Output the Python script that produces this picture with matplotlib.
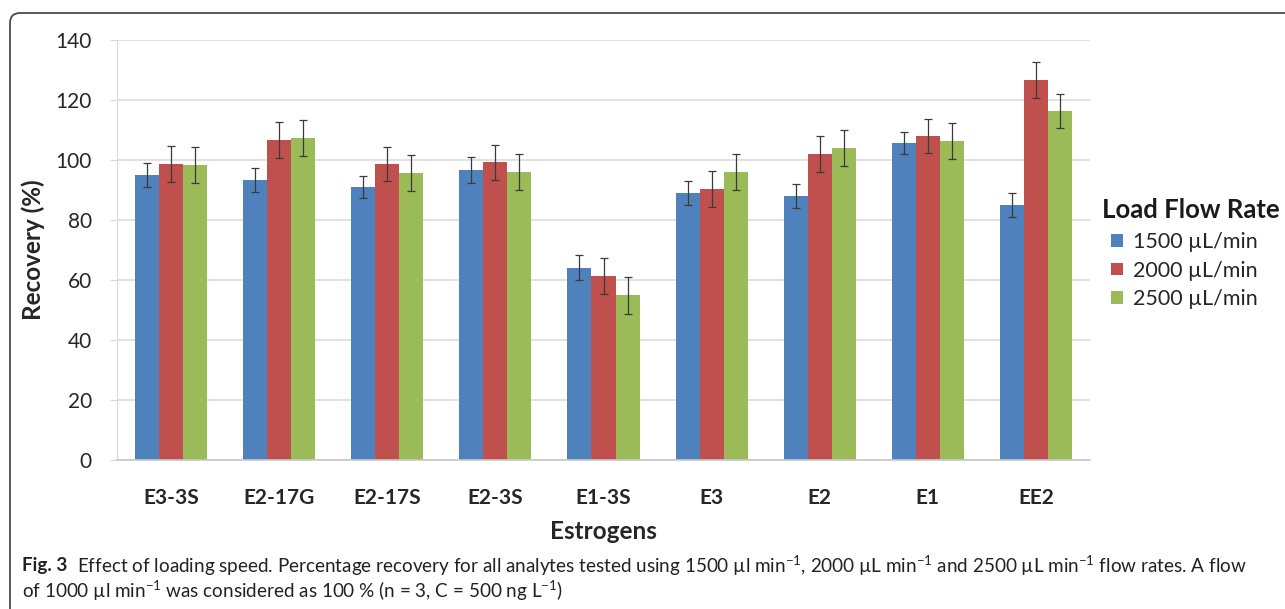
import numpy as np
import matplotlib
matplotlib.use("Agg")
import matplotlib.pyplot as plt
from matplotlib.patches import FancyBboxPatch
from matplotlib.transforms import IdentityTransform

plt.rcParams['font.family'] = ['Lato', 'DejaVu Sans']
plt.rcParams['mathtext.fontset'] = 'custom'
plt.rcParams['mathtext.rm'] = 'Lato'
plt.rcParams['mathtext.it'] = 'Lato:italic'
plt.rcParams['mathtext.bf'] = 'Lato:bold'

# data
estrogens = ['E3-3S', 'E2-17G', 'E2-17S', 'E2-3S', 'E1-3S', 'E3', 'E2', 'E1', 'EE2']
flow_labels = ['1500 µL/min', '2000 µL/min', '2500 µL/min']
rec_1500 = [95.1, 93.2, 91.0, 96.7, 64.1, 89.0, 87.9, 105.8, 84.9]
err_1500 = [4.0, 4.0, 3.8, 4.2, 4.2, 4.0, 4.0, 3.7, 4.0]
rec_2000 = [98.7, 106.7, 98.7, 99.2, 61.4, 90.2, 102.0, 108.1, 126.6]
err_2000 = [6.0, 6.0, 5.7, 5.8, 6.0, 6.0, 6.0, 5.7, 6.0]
rec_2500 = [98.2, 107.3, 95.7, 96.0, 54.9, 96.0, 104.0, 106.5, 116.4]
err_2500 = [6.0, 6.0, 6.0, 6.0, 6.1, 6.0, 6.0, 6.0, 5.7]

colors = ['#4F81BD', '#C0504D', '#9BBB59']

W, H = 1285, 609
fig = plt.figure(figsize=(W / 100, H / 100), dpi=100)
ax = fig.add_axes([117 / W, 1 - 460 / H, (1090 - 117) / W, (460 - 40) / H])

x = np.arange(len(estrogens))
bw = 1 / 4.5
series = [(rec_1500, err_1500), (rec_2000, err_2000), (rec_2500, err_2500)]
bars = []
for i, (vals, errs) in enumerate(series):
    b = ax.bar(x + (i - 1) * bw, vals, bw, color=colors[i], zorder=2,
               yerr=errs, error_kw=dict(ecolor='#3a3a3a', elinewidth=0.9,
                                        capsize=3, capthick=0.9, zorder=3))
    bars.append(b)

ax.set_xlim(-0.5, len(estrogens) - 0.5)
ax.set_ylim(0, 140)
ax.set_yticks(range(0, 141, 20))
ax.yaxis.grid(True, color='#d9d9d9', lw=1.1, zorder=0)
ax.set_axisbelow(True)
for s in ['top', 'right']:
    ax.spines[s].set_visible(False)
ax.spines['left'].set_color('#d9d9d9')
ax.spines['bottom'].set_color('#c8c8c8')
ax.spines['bottom'].set_linewidth(1.2)
ax.tick_params(axis='y', length=5, color='#d9d9d9', labelsize=15,
               labelcolor='#262626', pad=13)
ax.tick_params(axis='x', length=0, pad=20)
ax.set_xticks(x)
ax.set_xticklabels(estrogens, fontsize=15, fontweight='bold', color='#262626')

ax.set_xlabel('Estrogens', fontsize=17.5, fontweight='bold', color='#262626', labelpad=9)
ax.set_ylabel('Recovery (%)', fontsize=17.5, fontweight='bold', color='#262626', labelpad=8)

# legend title drawn separately so the entries sit indented like the original
fig.text(1102 / W, 1 - 210 / H, 'Load Flow Rate', fontsize=18.5, fontweight='bold',
         va='center', color='#1a1a1a')
leg = fig.legend(bars, flow_labels, loc='upper left',
                 bbox_to_anchor=(1111 / W, 1 - 232 / H), frameon=False,
                 fontsize=15.5, handlelength=0.55, handleheight=0.55,
                 handletextpad=0.45, labelspacing=0.4, borderaxespad=0, borderpad=0)
for t in leg.get_texts():
    t.set_color('#262626')

# caption frame with rounded top-left corner
frame = FancyBboxPatch((10, -60), 1500, H - 13 + 60,
                       boxstyle='round,pad=0,rounding_size=10',
                       transform=IdentityTransform(), fill=False,
                       edgecolor='#4a4a4a', lw=1.3)
fig.add_artist(frame)

cap_fs = 13.6
fig.canvas.draw()
r = fig.canvas.get_renderer()
t1 = fig.text(22 / W, 1 - 566 / H, 'Fig. 3', fontsize=cap_fs, fontweight='bold',
              va='center', color='#222222')
bb = t1.get_window_extent(renderer=r)
fig.text((bb.x1 + 10) / W, 1 - 566 / H,
         r'Effect of loading speed. Percentage recovery for all analytes tested using '
         r'1500 µl min$^{-1}$, 2000 µL min$^{-1}$ and 2500 µL min$^{-1}$ flow rates. A flow',
         fontsize=cap_fs, va='center', color='#222222')
fig.text(22 / W, 1 - 591 / H,
         r'of 1000 µl min$^{-1}$ was considered as 100 % (n = 3, C = 500 ng L$^{-1}$)',
         fontsize=cap_fs, va='center', color='#222222')

fig.savefig('out.png', dpi=100)
